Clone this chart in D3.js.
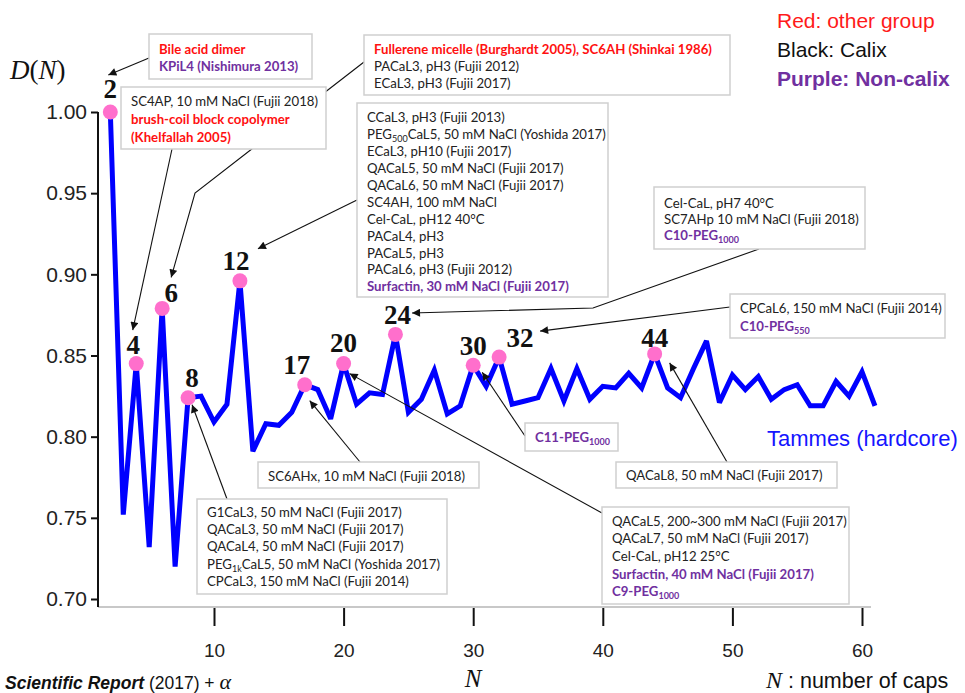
<!DOCTYPE html>
<html>
<head>
<style>
body { margin: 0; background: #fff; }
svg { display: block; }
</style>
</head>
<body>
<script src="https://d3js.org/d3.v7.min.js"></script>
<script>
var width = 965, height = 693;

// D(N) for the Tammes (hardcore) problem, N = 2 .. 61
var capN = d3.range(2, 62);
var dValues = [1.000, 0.752, 0.845, 0.732, 0.879, 0.720, 0.824, 0.825, 0.809, 0.820,
               0.896, 0.791, 0.808, 0.807, 0.815, 0.832, 0.829, 0.811, 0.845, 0.820,
               0.827, 0.826, 0.863, 0.815, 0.823, 0.841, 0.814, 0.819, 0.844, 0.831,
               0.849, 0.820, 0.822, 0.824, 0.842, 0.822, 0.842, 0.823, 0.831, 0.830,
               0.839, 0.830, 0.851, 0.830, 0.824, 0.842, 0.859, 0.821, 0.838, 0.829,
               0.837, 0.823, 0.829, 0.832, 0.819, 0.819, 0.834, 0.825, 0.840, 0.819];

// N values observed in experiments (pink dots)
var markedN = [2, 4, 6, 8, 12, 17, 20, 24, 30, 32, 44];

var yTicks = [0.70, 0.75, 0.80, 0.85, 0.90, 0.95, 1.00];
var xTicks = [10, 20, 30, 40, 50, 60];

// annotation texts: k = calix (black), r = other group (red), p = non-calix (purple)
var noteN = [2, 4, 6, 12, 24, 32, 30, 17, 8, 44, 20];
var noteText = [
  [["r", "Bile acid dimer"], ["p", "KPiL4 (Nishimura 2013)"]],
  [["k", "SC4AP, 10 mM NaCl (Fujii 2018)"], ["r", "brush-coil block copolymer"], ["r", "(Khelfallah 2005)"]],
  [["r", "Fullerene micelle (Burghardt 2005), SC6AH (Shinkai 1986)"], ["k", "PACaL3, pH3 (Fujii 2012)"], ["k", "ECaL3, pH3 (Fujii 2017)"]],
  [["k", "CCaL3, pH3 (Fujii 2013)"], ["k", "PEG_{500}CaL5, 50 mM NaCl (Yoshida 2017)"], ["k", "ECaL3, pH10 (Fujii 2017)"],
   ["k", "QACaL5, 50 mM NaCl (Fujii 2017)"], ["k", "QACaL6, 50 mM NaCl (Fujii 2017)"], ["k", "SC4AH, 100 mM NaCl"],
   ["k", "Cel-CaL, pH12 40°C"], ["k", "PACaL4, pH3"], ["k", "PACaL5, pH3"], ["k", "PACaL6, pH3 (Fujii 2012)"],
   ["p", "Surfactin, 30 mM NaCl (Fujii 2017)"]],
  [["k", "Cel-CaL, pH7 40°C"], ["k", "SC7AHp 10 mM NaCl (Fujii 2018)"], ["p", "C10-PEG_{1000}"]],
  [["k", "CPCaL6, 150 mM NaCl (Fujii 2014)"], ["p", "C10-PEG_{550}"]],
  [["p", "C11-PEG_{1000}"]],
  [["k", "SC6AHx, 10 mM NaCl (Fujii 2018)"]],
  [["k", "G1CaL3, 50 mM NaCl (Fujii 2017)"], ["k", "QACaL3, 50 mM NaCl (Fujii 2017)"], ["k", "QACaL4, 50 mM NaCl (Fujii 2017)"],
   ["k", "PEG_{1k}CaL5, 50 mM NaCl (Yoshida 2017)"], ["k", "CPCaL3, 150 mM NaCl (Fujii 2014)"]],
  [["k", "QACaL8, 50 mM NaCl (Fujii 2017)"]],
  [["k", "QACaL5, 200~300 mM NaCl (Fujii 2017)"], ["k", "QACaL7, 50 mM NaCl (Fujii 2017)"], ["k", "Cel-CaL, pH12 25°C"],
   ["p", "Surfactin, 40 mM NaCl (Fujii 2017)"], ["p", "C9-PEG_{1000}"]]
];

// layout of the boxes (pixels): box rect, first line y, line step, arrow start, optional bend, arrow head offset from the point
var noteLayout = [
  {box: [149, 34, 163, 45], y0: 49, step: 17, from: [149, 58], head: [-2, -37]},
  {box: [121, 87, 205, 62], y0: 101, step: 18, from: [172, 149], head: [-3.5, -33.5]},
  {box: [364, 35, 366, 60], y0: 49, step: 17, from: [364, 62], via: [195, 193], head: [9, -31]},
  {box: [357, 103, 251, 194], y0: 117.3, step: 16.95, from: [357, 200], head: [18, -32]},
  {box: [654, 187, 211, 62], y0: 203, step: 16.3, from: [759, 249], via: [593, 308], head: [16.6, -21.4]},
  {box: [730, 294, 215, 44], y0: 308.5, step: 17.5, from: [730, 307], head: [41, -26]},
  {box: [525, 423, 93, 28], y0: 437.5, step: 17, from: [525, 436], head: [9, 7]},
  {box: [258, 462, 221, 26], y0: 476, step: 17, from: [360, 462], head: [5, 16]},
  {box: [197, 499, 250, 95], y0: 512.3, step: 17.2, from: [227, 499], head: [4, 7]},
  {box: [616, 462, 221, 26], y0: 475, step: 17, from: [727, 462], head: [15, 9]},
  {box: [602, 507, 247, 97], y0: 521, step: 17.7, from: [602, 513], head: [6, 10]}
];

// point label offsets
var labelOffset = {2: [0, -14], 4: [-3, -10], 6: [9, -6], 8: [4, -11], 12: [-4, -11], 17: [-8, -11],
                   20: [0, -12], 24: [2, -10], 30: [0, -10], 32: [21, -10], 44: [0, -7]};

var colour = {k: "#222", r: "#ff1010", p: "#7030a0"};

var x = d3.scaleLinear().domain([10, 60]).range([214, 862]);
var y = d3.scaleLinear().domain([0.70, 1.00]).range([599, 112]);
var axisY = 607;

var svg = d3.select("body").append("svg")
    .attr("width", width)
    .attr("height", height);

svg.append("defs").append("marker")
    .attr("id", "head")
    .attr("viewBox", "0 0 10 10")
    .attr("refX", 10).attr("refY", 5)
    .attr("markerWidth", 10).attr("markerHeight", 8)
    .attr("markerUnits", "userSpaceOnUse")
    .attr("orient", "auto")
  .append("path")
    .attr("d", "M0,0L10,5L0,10z")
    .attr("fill", "#111");

// axes
var gy = svg.append("g")
    .attr("transform", "translate(98,0)")
    .call(d3.axisLeft(y).tickValues(yTicks).tickFormat(d3.format(".2f")).tickSize(7).tickSizeOuter(0).tickPadding(4));
gy.select(".domain").remove();
gy.selectAll(".tick line").attr("stroke", "#111").attr("stroke-width", 2);
gy.selectAll(".tick text")
    .style("font-family", "Liberation Sans, Arial, sans-serif")
    .style("font-size", "21px")
    .attr("fill", "#222");

var gx = svg.append("g")
    .attr("transform", "translate(0," + axisY + ")")
    .call(d3.axisBottom(x).tickValues(xTicks).tickSize(19).tickSizeOuter(0).tickPadding(18));
gx.select(".domain").remove();
gx.selectAll(".tick line").attr("stroke", "#111").attr("stroke-width", 2);
gx.selectAll(".tick text")
    .style("font-family", "Liberation Sans Narrow, Arial Narrow, sans-serif")
    .style("font-size", "19px")
    .attr("fill", "#222");

svg.append("line")
    .attr("x1", 98).attr("x2", 871)
    .attr("y1", axisY).attr("y2", axisY)
    .attr("stroke", "#c8c8c8").attr("stroke-width", 2);
svg.append("line")
    .attr("x1", 98).attr("x2", 98)
    .attr("y1", y(1.0)).attr("y2", axisY)
    .attr("stroke", "#111").attr("stroke-width", 2);

// Tammes curve
var pts = capN.map(function(n, i) { return [n, dValues[i]]; });
var line = d3.line()
    .x(function(d) { return x(d[0]); })
    .y(function(d) { return y(d[1]); });

svg.append("path")
    .datum(pts)
    .attr("d", line)
    .attr("fill", "none")
    .attr("stroke", "#0000ff")
    .attr("stroke-width", 5)
    .attr("stroke-linejoin", "miter")
    .attr("stroke-miterlimit", 3);

function valueAt(n) { return dValues[capN.indexOf(n)]; }

svg.selectAll(".dot")
    .data(markedN)
  .enter().append("circle")
    .attr("class", "dot")
    .attr("cx", function(n) { return x(n); })
    .attr("cy", function(n) { return y(valueAt(n)); })
    .attr("r", 7.5)
    .attr("fill", "#ff6fcc");

svg.selectAll(".nlabel")
    .data(markedN)
  .enter().append("text")
    .attr("class", "nlabel")
    .attr("x", function(n) { return x(n) + labelOffset[n][0]; })
    .attr("y", function(n) { return y(valueAt(n)) + labelOffset[n][1]; })
    .attr("text-anchor", "middle")
    .style("font-family", "Liberation Serif, serif")
    .style("font-weight", "bold")
    .style("font-size", "27px")
    .attr("fill", "#111")
    .text(function(n) { return n; });

// arrows
noteLayout.forEach(function(l, i) {
  var n = noteN[i];
  var p = [l.from];
  if (l.via) p.push(l.via);
  p.push([x(n) + l.head[0], y(valueAt(n)) + l.head[1]]);
  svg.append("path")
      .attr("d", d3.line()(p))
      .attr("fill", "none")
      .attr("stroke", "#111")
      .attr("stroke-width", 1.1)
      .attr("marker-end", "url(#head)");
});

function richText(sel, str) {
  var parts = str.split(/_\{([^}]*)\}/);
  parts.forEach(function(s, j) {
    if (!s) return;
    if (j % 2 == 1) {
      sel.append("tspan").attr("dy", 3).style("font-size", "9px").text(s);
    } else {
      var t = sel.append("tspan").text(s);
      if (j > 0) t.attr("dy", -3);
    }
  });
}

// boxes
noteLayout.forEach(function(l, i) {
  var g = svg.append("g");
  g.append("rect")
      .attr("x", l.box[0]).attr("y", l.box[1])
      .attr("width", l.box[2]).attr("height", l.box[3])
      .attr("fill", "#fff")
      .attr("stroke", "#cfcfcf")
      .attr("stroke-width", 1.5);
  noteText[i].forEach(function(row, j) {
    var t = g.append("text")
        .attr("x", l.box[0] + 10)
        .attr("y", l.y0 + j * l.step)
        .attr("dy", "0.35em")
        .style("font-family", "Lato, sans-serif")
        .style("font-size", "13.2px")
        .style("font-weight", row[0] == "k" ? "normal" : "bold")
        .attr("fill", colour[row[0]]);
    richText(t, row[1]);
  });
});

// legend
var legend = [["Red: other group", "#ff1a1a", "normal"], ["Black: Calix", "#111", "normal"], ["Purple: Non-calix", "#7030a0", "bold"]];
svg.selectAll(".legend")
    .data(legend)
  .enter().append("text")
    .attr("x", 777)
    .attr("y", function(d, i) { return 28 + i * 29; })
    .style("font-family", "Liberation Sans, Arial, sans-serif")
    .style("font-size", "21px")
    .style("font-weight", function(d) { return d[2]; })
    .attr("fill", function(d) { return d[1]; })
    .text(function(d) { return d[0]; });

svg.append("text")
    .attr("x", 767).attr("y", 446)
    .style("font-family", "Liberation Sans, Arial, sans-serif")
    .style("font-size", "22px")
    .attr("fill", "#1515ff")
    .text("Tammes (hardcore)");

// axis titles
var dn = svg.append("text")
    .attr("x", 10).attr("y", 79)
    .style("font-family", "Liberation Serif, serif")
    .style("font-size", "27px")
    .attr("fill", "#111");
dn.append("tspan").style("font-style", "italic").text("D");
dn.append("tspan").text("(");
dn.append("tspan").style("font-style", "italic").text("N");
dn.append("tspan").text(")");

svg.append("text")
    .attr("x", 473).attr("y", 687)
    .attr("text-anchor", "middle")
    .style("font-family", "Liberation Serif, serif")
    .style("font-style", "italic")
    .style("font-size", "25px")
    .attr("fill", "#111")
    .text("N");

var cap = svg.append("text")
    .attr("x", 766).attr("y", 688)
    .style("font-family", "Liberation Sans, Arial, sans-serif")
    .style("font-size", "21.5px")
    .attr("fill", "#111");
cap.append("tspan")
    .style("font-family", "Liberation Serif, serif")
    .style("font-style", "italic")
    .style("font-size", "24px")
    .text("N");
cap.append("tspan").text(" : number of caps");

var src = svg.append("text")
    .attr("x", 5).attr("y", 689)
    .style("font-family", "Liberation Sans, Arial, sans-serif")
    .style("font-size", "17.5px")
    .attr("fill", "#111");
src.append("tspan").style("font-style", "italic").style("font-weight", "bold").text("Scientific Report");
src.append("tspan").text(" (2017) + ");
src.append("tspan")
    .style("font-family", "Liberation Serif, serif")
    .style("font-style", "italic")
    .style("font-size", "22px")
    .text("α");
</script>
</body>
</html>
